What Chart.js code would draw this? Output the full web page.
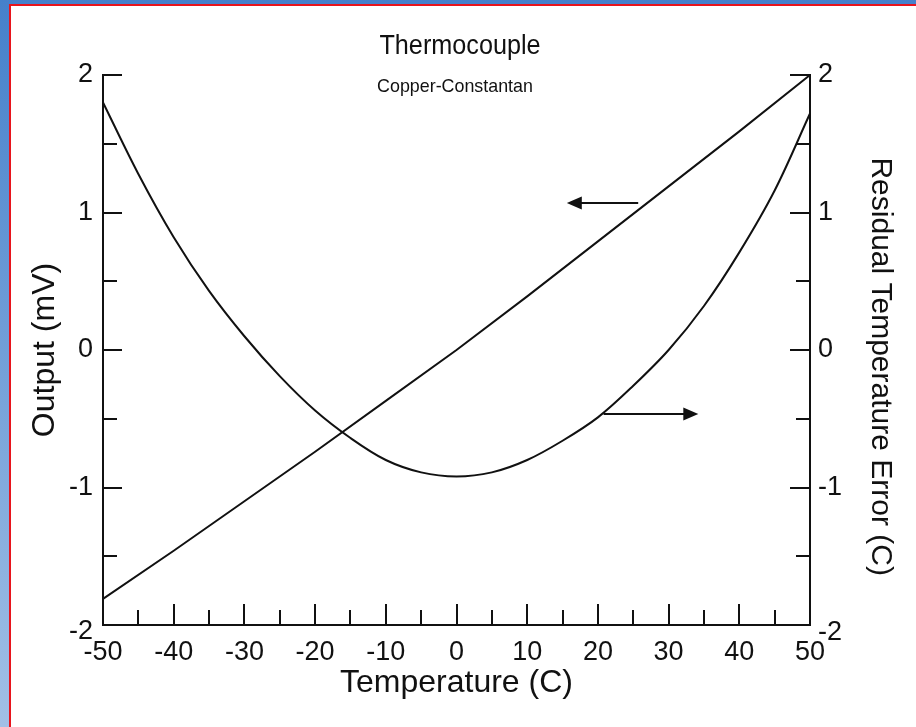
<!DOCTYPE html>
<html>
<head>
<meta charset="utf-8">
<script src="https://cdn.jsdelivr.net/npm/chart.js@4.4.0/dist/chart.umd.min.js"></script>
<style>
html, body { margin: 0; padding: 0; }
body { width: 916px; height: 727px; overflow: hidden; position: relative;
       background: linear-gradient(#4580cb, #a2c0e6); }
#panel { position: absolute; left: 9px; top: 4px; width: 960px; height: 800px;
         background: #fff; border: 2px solid #e8141c; }
#myChart { position: absolute; left: 0; top: 0; }
</style>
</head>
<body>
<div id="panel"></div>
<canvas id="myChart" width="916" height="727"></canvas>
<script>
// Temperature (C) samples
var tempOut = [-50, -40, -30, -20, -10, 0, 10, 20, 30, 40, 50];
// Output (mV), left axis
var outputMv = [-1.81, -1.46, -1.10, -0.74, -0.37, 0, 0.39, 0.79, 1.19, 1.59, 2.0];

var tempRes = [-50, -45, -40, -35, -30, -25, -20, -15, -10, -5, 0, 5, 10, 15, 20, 25, 30, 35, 40, 45, 50];
// Residual temperature error (C), right axis
var residualC = [1.80, 1.28, 0.82, 0.43, 0.10, -0.19, -0.44, -0.64, -0.80, -0.89, -0.92,
                 -0.89, -0.80, -0.66, -0.49, -0.26, 0.00, 0.32, 0.71, 1.16, 1.72];

var xTicks = [-50, -40, -30, -20, -10, 0, 10, 20, 30, 40, 50];
var yTicks = [-1, 0, 1, 2];

// arrows pointing at the axis each curve belongs to
var arrowTail = [[25.7, 1.07], [20.8, -0.465]];
var arrowHead = [[15.6, 1.07], [34.2, -0.465]];
var arrowAxis = ['y', 'y2'];

var fontFam = '"Liberation Sans", Arial, sans-serif';
var ink = '#111';

function pts(xs, ys) {
    return xs.map(function(x, i) { return { x: x, y: ys[i] }; });
}

// slightly condensed text, like the scanned original
function squeezed(ctx, text, x, y, size, sx) {
    ctx.save();
    ctx.font = size + 'px ' + fontFam;
    ctx.translate(x, y);
    ctx.scale(sx, 1);
    ctx.fillText(text, 0, 0);
    ctx.restore();
}

var decor = {
    id: 'decor',
    afterDraw: function(chart) {
        var ctx = chart.ctx, a = chart.chartArea, s = chart.scales;
        ctx.save();
        ctx.strokeStyle = ink;
        ctx.fillStyle = ink;
        ctx.lineWidth = 2;

        // inward tick marks
        ctx.beginPath();
        s.x.ticks.forEach(function(t) {
            var px = Math.round(s.x.getPixelForValue(t.value));
            var len = t.value % 10 === 0 ? 21 : 15;
            ctx.moveTo(px, a.bottom);
            ctx.lineTo(px, a.bottom - len);
        });
        s.y.ticks.forEach(function(t) {
            var py = Math.round(s.y.getPixelForValue(t.value));
            var len = Number.isInteger(t.value) ? 19 : 14;
            ctx.moveTo(a.left, py);
            ctx.lineTo(a.left + len, py);
        });
        s.y2.ticks.forEach(function(t) {
            var py = Math.round(s.y2.getPixelForValue(t.value));
            var len = Number.isInteger(t.value) ? 20 : 14;
            ctx.moveTo(a.right, py);
            ctx.lineTo(a.right - len, py);
        });
        ctx.stroke();

        // arrows
        arrowTail.forEach(function(tail, i) {
            var sc = s[arrowAxis[i]];
            var x1 = s.x.getPixelForValue(tail[0]), y1 = sc.getPixelForValue(tail[1]);
            var x2 = s.x.getPixelForValue(arrowHead[i][0]), y2 = sc.getPixelForValue(arrowHead[i][1]);
            var dir = x2 > x1 ? 1 : -1;
            ctx.beginPath();
            ctx.moveTo(x1, y1);
            ctx.lineTo(x2 - dir * 10, y2);
            ctx.stroke();
            ctx.beginPath();
            ctx.moveTo(x2, y2);
            ctx.lineTo(x2 - dir * 15, y2 - 6.5);
            ctx.lineTo(x2 - dir * 15, y2 + 6.5);
            ctx.closePath();
            ctx.fill();
        });

        // titles
        ctx.textAlign = 'center';
        ctx.textBaseline = 'middle';
        squeezed(ctx, 'Thermocouple', 460, 46, 28, 0.9);
        squeezed(ctx, 'Copper-Constantan', 455, 87, 19, 0.94);

        // the dropped -2 labels at the bottom corners
        ctx.font = '27px ' + fontFam;
        var yb = s.y.getPixelForValue(-2) + 7;
        ctx.textAlign = 'right';
        ctx.fillText('-2', a.left - 10, yb);
        ctx.textAlign = 'left';
        ctx.fillText('-2', a.right + 8, yb + 1);
        ctx.restore();
    }
};

window.onload = function() {
    var ctx = document.getElementById('myChart').getContext('2d');
    var tickFont = { family: fontFam, size: 27 };
    var titleFont = { family: fontFam, size: 32 };
    var myChart = new Chart(ctx, {
        type: 'line',
        data: {
            datasets: [{
                label: 'Output (mV)',
                data: pts(tempOut, outputMv),
                yAxisID: 'y',
                borderColor: ink,
                borderWidth: 2,
                pointRadius: 0,
                tension: 0,
                clip: 3
            }, {
                label: 'Residual Temperature Error (C)',
                data: pts(tempRes, residualC),
                yAxisID: 'y2',
                borderColor: ink,
                borderWidth: 2,
                pointRadius: 0,
                tension: 0.35,
                clip: 3
            }]
        },
        options: {
            responsive: false,
            animation: false,
            layout: { padding: { top: 75, left: 0, right: 0, bottom: 0 } },
            plugins: { legend: { display: false }, tooltip: { enabled: false } },
            scales: {
                x: {
                    type: 'linear', min: -50, max: 50,
                    afterFit: function(sc) { sc.height = 102; },
                    grid: { drawOnChartArea: false, drawTicks: false },
                    border: { display: true, color: ink, width: 2 },
                    ticks: {
                        stepSize: 5, autoSkip: false, maxRotation: 0, padding: 11,
                        color: ink, font: tickFont,
                        callback: function(v) { return xTicks.indexOf(v) >= 0 ? String(v) : ''; }
                    },
                    title: { display: true, text: 'Temperature (C)', color: ink, font: titleFont,
                             padding: { top: 0, bottom: 25 } }
                },
                y: {
                    position: 'left', min: -2, max: 2,
                    afterFit: function(sc) { sc.width = 103; },
                    grid: { drawOnChartArea: false, drawTicks: false },
                    border: { display: true, color: ink, width: 2 },
                    ticks: {
                        stepSize: 0.5, autoSkip: false, padding: 10,
                        color: ink, font: tickFont,
                        callback: function(v) { return yTicks.indexOf(v) >= 0 ? String(v) : ''; }
                    },
                    title: { display: true, text: 'Output (mV)', color: ink, font: titleFont,
                             padding: { top: 26, bottom: 0 } }
                },
                y2: {
                    position: 'right', min: -2, max: 2,
                    afterFit: function(sc) { sc.width = 106; },
                    grid: { drawOnChartArea: false, drawTicks: false },
                    border: { display: true, color: ink, width: 2 },
                    ticks: {
                        stepSize: 0.5, autoSkip: false, padding: 8,
                        color: ink, font: tickFont,
                        callback: function(v) { return yTicks.indexOf(v) >= 0 ? String(v) : ''; }
                    },
                    title: { display: true, text: '    Residual Temperature Error (C)', color: ink,
                             font: { family: fontFam, size: 30 },
                             padding: { top: 18, bottom: 0 } }
                }
            }
        },
        plugins: [decor]
    });
};
</script>
</body>
</html>
